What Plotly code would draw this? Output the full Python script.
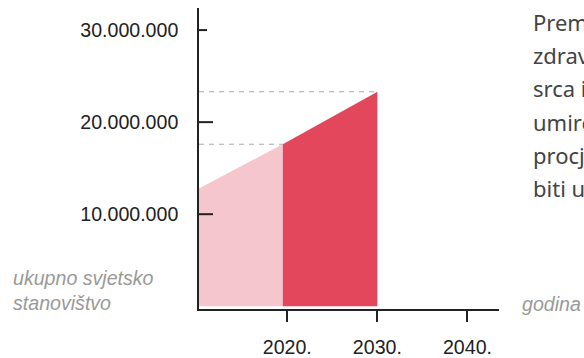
import plotly.graph_objects as go

# data (deaths from cardiovascular disease, worldwide)
years_past = [2010, 2019.5]
deaths_past = [12_700_000, 17_600_000]
years_future = [2019.5, 2030]
deaths_future = [17_600_000, 23_300_000]

x_ticks = [2020, 2030, 2040]
x_ticklabels = ["2020.", "2030.", "2040."]
y_ticks = [10_000_000, 20_000_000, 30_000_000]
y_ticklabels = ["10.000.000", "20.000.000", "30.000.000"]

x_range = [2010.2, 2043.5]
y_range = [-300_000, 32_400_000]

side_text = [
    "Prema procjenama Svjetske",
    "zdravstvene organizacije, bolesti",
    "srca i krvnih žila godišnje",
    "umire gotovo 18 milijuna ljudi, a",
    "procjenjuje se da će do 2030.",
    "biti ukupno 23,6 milijuna.",
]

PINK = "#F5C6CE"
RED = "#E2475C"
AXIS = "#222222"
GRAY = "#999999"

fig = go.Figure()
fig.add_trace(go.Scatter(x=years_past, y=deaths_past, fill="tozeroy", mode="lines",
                         line=dict(width=0, color=PINK), fillcolor=PINK, hoverinfo="skip"))
fig.add_trace(go.Scatter(x=years_future, y=deaths_future, fill="tozeroy", mode="lines",
                         line=dict(width=0, color=RED), fillcolor=RED, hoverinfo="skip"))

shapes = []
# dashed guide lines from y axis to the two key points
for xv, yv in [(years_past[-1], deaths_past[-1]), (years_future[-1], deaths_future[-1])]:
    shapes.append(dict(type="line", xref="x", yref="y", x0=x_range[0], x1=xv, y0=yv, y1=yv,
                       line=dict(color="#AAAAAA", width=1, dash="5px,5px"), layer="above"))
# y ticks
for i, v in enumerate(y_ticks):
    x0, x1 = (-7, 8) if i == len(y_ticks) - 1 else (-2, 14)
    shapes.append(dict(type="line", xref="x", yref="y", xsizemode="pixel", xanchor=x_range[0],
                       x0=x0, x1=x1, y0=v, y1=v, line=dict(color=AXIS, width=2), layer="above"))

annotations = []
for i, t in enumerate(side_text):
    py = 22 + i * 33.2
    annotations.append(dict(text=t, xref="paper", yref="paper", x=(531 - 199) / 300,
                            y=(309 - py) / 301, xanchor="left", yanchor="middle", showarrow=False,
                            font=dict(family="Noto Sans", size=22, color="#444444")))
annotations.append(dict(text="<i>ukupno svjetsko<br>stanovištvo</i>", xref="paper", yref="paper",
                        x=(11 - 199) / 300, y=(309 - 290) / 301, xanchor="left", yanchor="middle",
                        align="left", showarrow=False,
                        font=dict(family="Liberation Sans", size=19.6, color=GRAY)))
annotations.append(dict(text="<i>godina</i>", xref="paper", yref="paper",
                        x=(520 - 199) / 300, y=(309 - 304) / 301, xanchor="left", yanchor="middle",
                        showarrow=False, font=dict(family="Liberation Sans", size=19.6, color=GRAY)))

fig.update_layout(
    width=584, height=358,
    margin=dict(l=199, r=85, t=8, b=49, autoexpand=False),
    paper_bgcolor="white", plot_bgcolor="white",
    showlegend=False,
    font=dict(family="Liberation Sans", size=19.6, color="#222222"),
    xaxis=dict(range=x_range, tickvals=x_ticks, ticktext=x_ticklabels, showgrid=False,
               zeroline=False, showline=True, linecolor=AXIS, linewidth=1.5, automargin=False,
               ticks="outside", ticklen=11, tickwidth=2, tickcolor=AXIS, ticklabelstandoff=9,
               fixedrange=True),
    yaxis=dict(range=y_range, tickvals=y_ticks, ticktext=y_ticklabels, showgrid=False,
               zeroline=False, showline=True, linecolor=AXIS, linewidth=1.5, automargin=False,
               ticks="", ticklabelstandoff=15, fixedrange=True),
    shapes=shapes,
    annotations=annotations,
)

fig.write_html("out.html")
